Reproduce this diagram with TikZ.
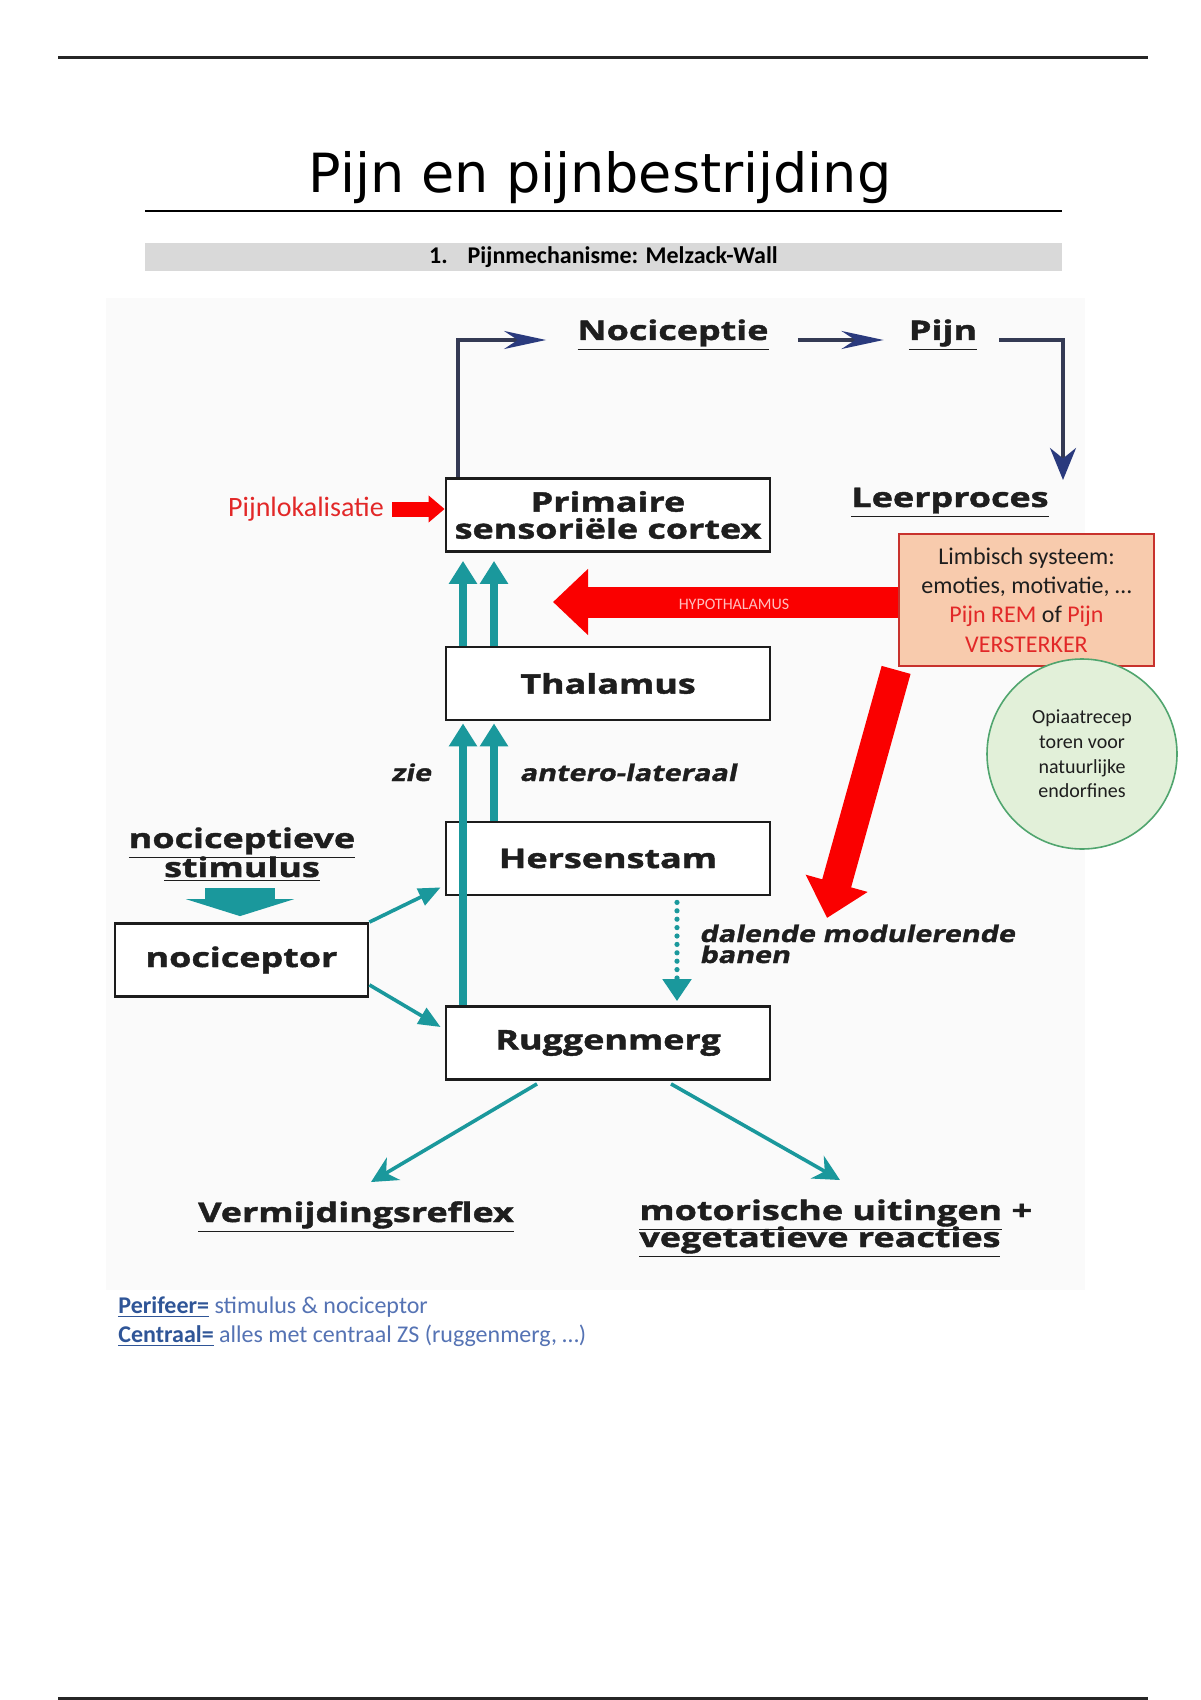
\documentclass[tikz,border=0pt]{standalone}
\usepackage{fontspec}
\setmainfont{Carlito}
\newfontfamily\titlefont{DejaVu Sans}
\newfontfamily\dgfont[FakeStretch=1.33,FakeBold=1.6]{Open Sans}
\newfontfamily\dgitfont[FakeStretch=1.25,FakeSlant=0.2,FakeBold=1.4]{Open Sans}
\usetikzlibrary{arrows.meta}
\definecolor{tealc}{RGB}{26,152,156}
\definecolor{navyc}{RGB}{42,58,125}
\definecolor{linec}{RGB}{52,58,84}
\definecolor{salmon}{RGB}{248,203,173}
\definecolor{limbborder}{RGB}{200,50,45}
\definecolor{greenfill}{RGB}{226,240,217}
\definecolor{greenborder}{RGB}{80,165,110}
\definecolor{redc}{RGB}{250,0,0}
\definecolor{redt}{RGB}{226,40,40}
\definecolor{hypc}{RGB}{255,190,190}
\definecolor{barc}{RGB}{217,217,217}
\definecolor{bluebold}{RGB}{47,85,151}
\definecolor{bluetext}{RGB}{85,115,180}
\definecolor{txt}{RGB}{30,30,30}
\definecolor{boxc}{RGB}{28,28,28}
\definecolor{bgc}{RGB}{250,250,250}
\begin{document}
\begin{tikzpicture}[x=0.5pt,y=-0.5pt,
  box/.style={draw=boxc, line width=1.4pt, fill=white, minimum width=162pt, minimum height=36.5pt, inner sep=0pt, align=center, text=txt, font={\dgfont\bfseries\fontsize{13.5}{13.5}\selectfont}},
  lbl/.style={inner sep=0pt, anchor=base, text=txt, font={\dgfont\bfseries\fontsize{13.5}{13.5}\selectfont}},
  itl/.style={inner sep=0pt, anchor=base, text=txt, font={\dgitfont\bfseries\fontsize{11.5}{11.5}\selectfont}},
  tealthick/.style={draw=tealc, line width=4pt, -{Triangle[length=11.5pt,width=13.5pt]}},
  tealthin/.style={draw=tealc, line width=1.8pt, -{Triangle[length=11pt,width=9pt]}},
  tealbot/.style={draw=tealc, line width=1.8pt, -{Stealth[length=13pt,width=13pt]}},
  tealdot/.style={draw=tealc, line width=2.6pt, line cap=round, dash pattern=on 0pt off 4.2pt, -{Triangle[length=11pt,width=14pt]}},
  navarrow/.style={draw=linec, line width=1.7pt, -{Stealth[length=21pt,width=9pt,color=navyc]}},
  navdown/.style={draw=linec, line width=1.7pt, -{Stealth[length=16pt,width=13pt,color=navyc]}},
  redblock/.style={draw=redc, line width=15.5pt, -{Triangle[length=17.5pt,width=32pt]}},
]
\useasboundingbox (0,0) rectangle (1200,1700);
\fill[white] (0,0) rectangle (1200,1700);

% page header
\draw[line width=1.5pt, black!85] (58,58) -- (1148,58);
\node[anchor=base, inner sep=0pt, font={\titlefont\fontsize{27}{30}\selectfont}] (title) at (600,193) {Pijn en pijnbestrijding};
\draw[line width=1pt] (145,211) -- (1062,211);
\node[fill=barc, minimum width=458.5pt, minimum height=14pt, inner sep=0pt, font={\bfseries\fontsize{12}{13}\selectfont}] (bar) at (603.5,257) {1.\hspace{10pt}Pijnmechanisme: Melzack-Wall};

% diagram background
\fill[bgc] (106,298) rectangle (1085,1290);

% boxes
\node[box] (prim) at (608,515) {Primaire\\sensoriële cortex};
\node[box] (thal) at (608,683.5) {Thalamus};
\node[box] (hers) at (608,858.5) {Hersenstam};
\node[box] (rugg) at (608,1043) {Ruggenmerg};
\node[box, minimum width=126.5pt] (noc) at (241.5,960) {nociceptor};

% labels
\node[lbl] (nocic) at (673,340) {\underline{Nociceptie}};
\node[lbl] (pijn) at (943,340) {\underline{Pijn}};
\node[lbl] (leer) at (950,507) {\underline{Leerproces}};
\node[lbl] (stim1) at (242,848) {\underline{nociceptieve}};
\node[lbl] (stim2) at (242,877) {\underline{stimulus}};
\node[itl] (zie) at (411,781) {zie};
\node[itl] (antero) at (628,781) {antero-lateraal};
\node[itl, anchor=base west] (dal1) at (699,942) {dalende modulerende};
\node[itl, anchor=base west] (dal2) at (699,963) {banen};
\node[lbl] (verm) at (356,1222) {\underline{Vermijdingsreflex}};
\node[lbl, anchor=base west] (mot1) at (639,1220) {\underline{motorische uitingen} +};
\node[lbl, anchor=base west] (mot2) at (639,1247) {\underline{vegetatieve reacties}};

% top navy loop
\draw[navarrow] ([xshift=-75pt]prim.north) |- ([xshift=-15.5pt]nocic.base west);
\draw[navarrow] ([xshift=14.5pt]nocic.base east) -- ([xshift=-12.5pt]pijn.base west);
\coordinate (leertip) at (1063,480);
\draw[navdown] ([xshift=11pt]pijn.base east) -| (leertip);

% teal ascending arrows
\draw[tealthick] ([xshift=-72.5pt]thal.north) -- ([xshift=-72.5pt,yshift=-4pt]prim.south);
\draw[tealthick] ([xshift=-57pt]thal.north) -- ([xshift=-57pt,yshift=-4pt]prim.south);
\draw[tealthick] ([xshift=-72.5pt]rugg.north) -- ([xshift=-72.5pt,yshift=-1pt]thal.south);
\draw[tealthick] ([xshift=-57pt]hers.north) -- ([xshift=-57pt,yshift=-1pt]thal.south);

% nociceptor arrows
\coordinate (stimbase) at (240,888);
\draw[draw=tealc, line width=35pt, -{Triangle[length=8.5pt,width=54pt]}] (stimbase) -- ([xshift=-0.75pt,yshift=3pt]noc.north);
\draw[tealthin] (noc.north east) -- ([xshift=-2pt,yshift=4.5pt]hers.south west);
\draw[tealthin] ([yshift=6.5pt]noc.south east) -- ([xshift=-2pt,yshift=8pt]rugg.west);

% dotted descending
\draw[tealdot] ([xshift=34.5pt,yshift=-3pt]hers.south) -- ([xshift=34.5pt,yshift=2pt]rugg.north);

% bottom arrows
\coordinate (vermtip) at (371,1182);
\coordinate (mottip) at (840,1180);
\draw[tealbot] ([xshift=-35.5pt,yshift=-1.5pt]rugg.south) -- (vermtip);
\draw[tealbot] ([xshift=31.5pt,yshift=-1.5pt]rugg.south) -- (mottip);

% limbic box and circle
\node[draw=limbborder, fill=salmon, line width=0.9pt, minimum width=127.5pt, minimum height=66pt, inner sep=0pt, align=center, text=txt, font={\fontsize{12}{14.6}\selectfont}] (limb) at (1026.5,600) {Limbisch systeem:\\emoties, motivatie, …\\\textcolor{redt}{Pijn REM} of \textcolor{redt}{Pijn}\\\textcolor{redt}{VERSTERKER}};
\node[circle, draw=greenborder, fill=greenfill, line width=0.8pt, minimum size=95pt, inner sep=0pt, align=center, text=txt, font={\fontsize{10}{12.3}\selectfont}] (opi) at (1082,754) {Opiaatrecep\\toren voor\\natuurlijke\\endorfines};

% red arrows
\coordinate (hyptip) at (553,602);
\draw[redblock] ([yshift=-1pt]limb.west) -- (hyptip);
\node[inner sep=0pt, text=hypc, font={\fontsize{8}{9}\selectfont}] (hyp) at (734,604) {HYPOTHALAMUS};
\coordinate (redtip) at (827,918);
\draw[draw=redc, line width=15pt, -{Triangle[length=18pt,width=31pt]}] ([xshift=-1pt,yshift=-1.5pt]limb.south west) -- (redtip);

\node[inner sep=0pt, text=redt, font={\fontsize{14}{16}\selectfont}] (pl) at (306,509) {Pijnlokalisatie};
\draw[draw=redc, line width=7.5pt, -{Triangle[length=8pt,width=13pt]}] ([xshift=4pt]pl.east) -- (prim.west |- pl.east);

% footnotes
\node[anchor=base west, inner sep=0pt, font={\fontsize{12}{14}\selectfont}] (per) at (118,1313) {{\color{bluebold}\bfseries\underline{Perifeer=}}\ {\color{bluetext}stimulus \& nociceptor}};
\node[anchor=base west, inner sep=0pt, font={\fontsize{12}{14}\selectfont}] (cen) at (118,1342) {{\color{bluebold}\bfseries\underline{Centraal=}}\ {\color{bluetext}alles met centraal ZS (ruggenmerg, …)}};

% page footer line
\draw[line width=1.5pt, black!85] (58,1698) -- (1148,1698);
\end{tikzpicture}
\end{document}
